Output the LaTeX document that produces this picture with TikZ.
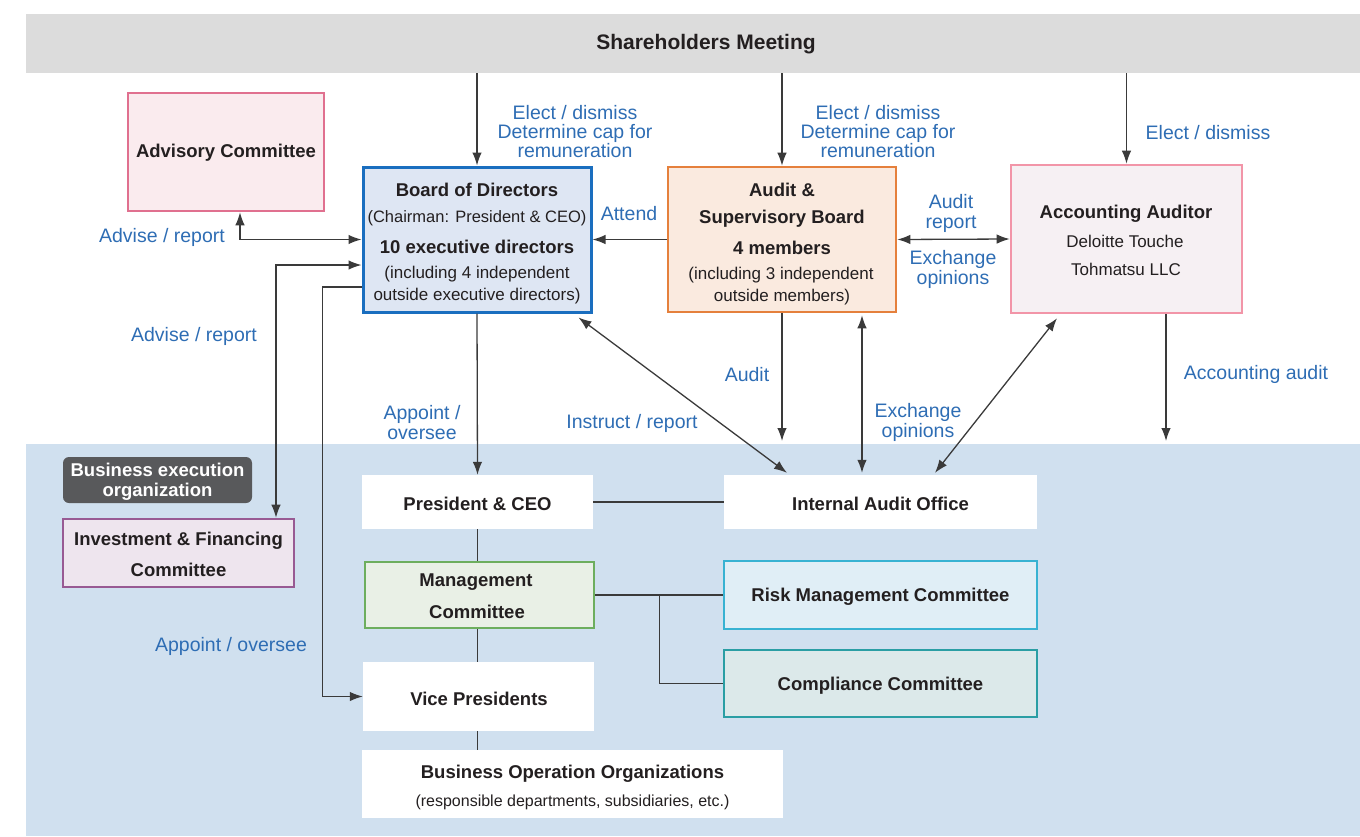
\documentclass[tikz,border=0pt]{standalone}
\usepackage{fontspec}
\setmainfont{Liberation Sans}
\usetikzlibrary{arrows.meta,calc}
\definecolor{smgray}{HTML}{DCDCDC}
\definecolor{bandblue}{HTML}{D0E0EF}
\definecolor{lblue}{HTML}{2E6DB4}
\definecolor{ink}{HTML}{231F20}
\definecolor{lineg}{HTML}{3A3A3A}
\definecolor{advb}{HTML}{E0708F}\definecolor{advf}{HTML}{FAEBEE}
\definecolor{bodb}{HTML}{1A6EBF}\definecolor{bodf}{HTML}{DEE6F3}
\definecolor{asbb}{HTML}{E5803C}\definecolor{asbf}{HTML}{FAEADF}
\definecolor{aab}{HTML}{F295A8}\definecolor{aaf}{HTML}{F6F0F3}
\definecolor{ifcb}{HTML}{985A93}\definecolor{ifcf}{HTML}{EEE5EE}
\definecolor{mcb}{HTML}{6DAE5E}\definecolor{mcf}{HTML}{E9F0E6}
\definecolor{rmcb}{HTML}{38B2D2}\definecolor{rmcf}{HTML}{E0EEF6}
\definecolor{ccb}{HTML}{2A9EA4}\definecolor{ccf}{HTML}{DCE9EA}
\definecolor{beo}{HTML}{58595B}
\begin{document}
\begin{tikzpicture}[x=1pt,y=-1pt,
  >={Latex[length=13pt,width=9.5pt]},
  frame/.style={line width=2.6pt, inner sep=0pt},
  plainbox/.style={fill=white, inner sep=0pt},
  ttl/.style={font=\fontsize{18.5}{19}\selectfont\bfseries, text=ink, inner sep=0pt, yshift=-2.5pt},
  sub/.style={font=\fontsize{17}{19}\selectfont, text=ink, inner sep=0pt, yshift=-2pt},
  lbl/.style={font=\fontsize{19.5}{19.2}\selectfont, text=lblue, align=center, inner sep=0pt, yshift=-1.5pt},
  conn/.style={draw=lineg, line width=1.3pt}]
\useasboundingbox (0,0) rectangle (1360,836);

% bands
\node[fill=smgray, minimum width=1334pt, minimum height=59pt, inner sep=0pt] (sm) at (693,43.5) {};
\node[font=\fontsize{21}{21}\selectfont\bfseries, text=ink, inner sep=0pt, yshift=-2.5pt] (smtxt) at (706,42) {Shareholders Meeting};
\fill[bandblue] (26,444) rectangle (1360,836);

% governance boxes
\node[frame, draw=advb, fill=advf, minimum width=196pt, minimum height=118pt] (adv) at (226,152) {};
\node[ttl] (advt) at (226,150) {Advisory Committee};

\node[frame, line width=3pt, draw=bodb, fill=bodf, minimum width=228pt, minimum height=145pt] (bod) at (477,239.5) {};
\node[ttl] (bod1) at (477,187) {Board of Directors};
\node[sub, font=\fontsize{16.5}{19}\selectfont] (bod2) at (477,216) {(Chairman: President \& CEO)};
\node[ttl] (bod3) at (477,244) {10 executive directors};
\node[sub] (bod4) at (477,272) {(including 4 independent};
\node[sub] (bod5) at (477,294) {outside executive directors)};

\node[frame, draw=asbb, fill=asbf, minimum width=228pt, minimum height=145pt] (asb) at (782,239.5) {};
\node[ttl] (asb1) at (782,187) {Audit \&};
\node[ttl] (asb2) at (782,216) {Supervisory Board};
\node[ttl] (asb3) at (782,245) {4 members};
\node[sub] (asb4) at (781,273) {(including 3 independent};
\node[sub] (asb5) at (782,295) {outside members)};

\node[frame, draw=aab, fill=aaf, minimum width=231pt, minimum height=148pt] (aa) at (1126.5,239) {};
\node[ttl] (aa1) at (1126,211) {Accounting Auditor};
\node[sub] (aa2) at (1125,239) {Deloitte Touche};
\node[sub] (aa3) at (1126,267) {Tohmatsu LLC};

% business execution side
\node[fill=beo, rounded corners=6pt, minimum width=189pt, minimum height=46pt, inner sep=0pt] (beo) at (157.5,480) {};
\node[font=\fontsize{18.5}{20}\selectfont\bfseries, text=white, align=center, inner sep=0pt, yshift=-1.5pt] (beot) at (157.5,480) {Business execution\\organization};

\node[frame, draw=ifcb, fill=ifcf, minimum width=231pt, minimum height=68pt] (ifc) at (178.5,553) {};
\node[ttl] (ifc1) at (178.5,538) {Investment \& Financing};
\node[ttl] (ifc2) at (178.5,567) {Committee};

\node[plainbox, minimum width=231pt, minimum height=54pt] (pres) at (477.5,502) {};
\node[ttl] (prest) at (477.5,501) {President \& CEO};

\node[plainbox, minimum width=313pt, minimum height=54pt] (iao) at (880.5,502) {};
\node[ttl] (iaot) at (880.5,501) {Internal Audit Office};

\node[frame, draw=mcb, fill=mcf, minimum width=229pt, minimum height=66pt] (mc) at (479.5,595) {};
\node[ttl] (mc1) at (476,580) {Management};
\node[ttl] (mc2) at (477,609) {Committee};

\node[frame, draw=rmcb, fill=rmcf, minimum width=313pt, minimum height=68pt] (rmc) at (880.5,595) {};
\node[ttl] (rmct) at (880.5,594) {Risk Management Committee};

\node[frame, draw=ccb, fill=ccf, minimum width=313pt, minimum height=67pt] (cc) at (880.5,683.5) {};
\node[ttl] (cct) at (880.5,683) {Compliance Committee};

\node[plainbox, minimum width=231pt, minimum height=69pt] (vp) at (478.5,696.5) {};
\node[ttl] (vpt) at (479,696) {Vice Presidents};

\node[plainbox, minimum width=421pt, minimum height=68pt] (boo) at (572.5,784) {};
\node[ttl] (boo1) at (572.5,771) {Business Operation Organizations};
\node[sub, font=\fontsize{16}{19}\selectfont] (boo2) at (572.5,800) {(responsible departments, subsidiaries, etc.)};

% free ends of the audit arrows
\coordinate (auditend) at (782,441);
\coordinate (accend) at (1166,441);

% connectors from the shareholders meeting
\draw[conn,->] (bod.north |- sm.south) -- (bod.north);
\draw[conn,->] (asb.north |- sm.south) -- (asb.north);
\draw[conn,->] (aa.north |- sm.south) -- (aa.north);

% board level connectors
\draw[conn,->] (asb.west) -- (bod.east);
\draw[conn,<->] (asb.east) -- (aa.west);
\draw[conn,<->] ($(adv.south)+(14,0)$) |- (bod.west);
\draw[conn,<->] ($(bod.west)+(0,25.5)$) -| ($(ifc.north)+(97.5,0)$);
\draw[conn,->] ($(bod.west)+(0,47.5)$) -| ($(vp.west)+(-40,0)$) -- (vp.west);
\draw[conn,->] (bod.south) -- (pres.south |- pres.north);
\draw[conn,<->] ($(bod.south east)+(-14,4)$) -- ($(iao.north)+(-93.5,-2)$);
\draw[conn,->] (asb.south) -- (auditend);
\draw[conn,<->] ($(asb.south)+(80,2)$) -- ($(iao.north)+(-18.5,-2)$);
\draw[conn,<->] ($(aa.south)+(-69.5,4)$) -- ($(iao.north)+(54.5,-2)$);
\draw[conn,->] ($(aa.south)+(39.5,0)$) -- (accend);

% execution level connectors
\draw[conn] (pres.east) -- (iao.west);
\draw[conn] (pres.south) -- (pres.south |- mc.north);
\draw[conn] (mc.east) -- (rmc.west);
\draw[conn] ($(mc.east)+(64.5,0)$) |- (cc.west);
\draw[conn] (pres.south |- mc.south) -- (pres.south |- vp.north);
\draw[conn] (pres.south |- vp.south) -- (pres.south |- boo.north);

% connector labels
\node[lbl] (l1) at (575,130) {Elect / dismiss\\Determine cap for\\remuneration};
\node[lbl] (l2) at (878,130) {Elect / dismiss\\Determine cap for\\remuneration};
\node[lbl] (l3) at (1208,131) {Elect / dismiss};
\node[lbl] (l4) at (629,212) {Attend};
\node[lbl] (l5) at (951,212) {Audit\\report};
\node[lbl] (l6) at (953,268) {Exchange\\opinions};
\node[lbl] (l7) at (162,236) {Advise / report};
\node[lbl] (l8) at (194,335) {Advise / report};
\node[lbl] (l9) at (422,421) {Appoint /\\oversee};
\node[lbl] (l10) at (632,422) {Instruct / report};
\node[lbl] (l11) at (747,373) {Audit};
\node[lbl] (l12) at (918,421) {Exchange\\opinions};
\node[lbl] (l13) at (1256,373) {Accounting audit};
\node[lbl] (l14) at (231,645) {Appoint / oversee};
\end{tikzpicture}
\end{document}
